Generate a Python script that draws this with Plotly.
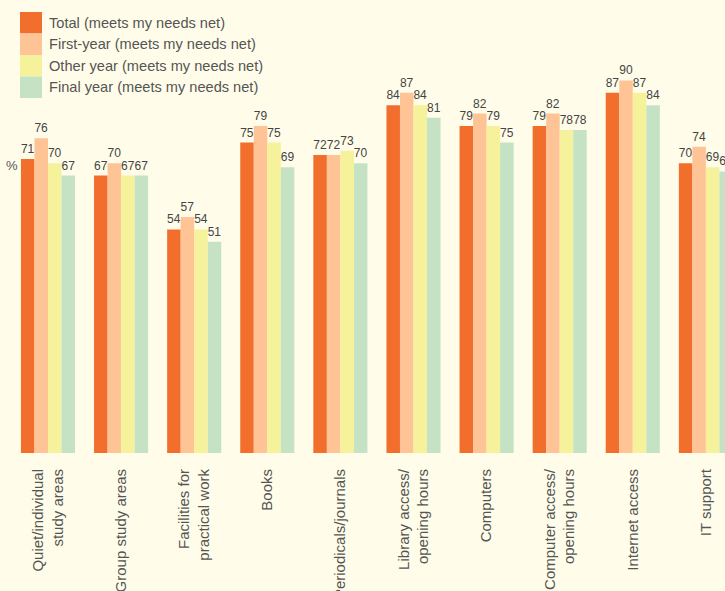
import plotly.graph_objects as go

categories = [
    "Quiet/individual<br>study areas",
    "Group study areas",
    "Facilities for<br>practical work",
    "Books",
    "Periodicals/journals",
    "Library access/<br>opening hours",
    "Computers",
    "Computer access/<br>opening hours",
    "Internet access",
    "IT support",
]
series_names = [
    "Total (meets my needs net)",
    "First-year (meets my needs net)",
    "Other year (meets my needs net)",
    "Final year (meets my needs net)",
]
total = [71, 67, 54, 75, 72, 84, 79, 79, 87, 70]
first_year = [76, 70, 57, 79, 72, 87, 82, 82, 90, 74]
other_year = [70, 67, 54, 75, 73, 84, 79, 78, 87, 69]
final_year = [67, 67, 51, 69, 70, 81, 75, 78, 84, 68]
values = [total, first_year, other_year, final_year]
colors = ["#F26E2C", "#FEC496", "#F5F29B", "#C5E3C4"]

BG = "#FFFDE9"
TXT = "#555555"
FONT = "Liberation Sans, Arial"
W, H = 725, 591
ML, MR, MT, MB = 14, 0, 39, 138
PW = W - ML - MR
PH = H - MT - MB

fig = go.Figure()
for name, vals, col in zip(series_names, values, colors):
    fig.add_trace(go.Bar(
        x=list(range(len(categories))), y=vals, name=name,
        marker=dict(color=col, line=dict(width=0)),
        text=[str(v) for v in vals], textposition="outside",
        textfont=dict(size=12, color="#444444", family=FONT),
        constraintext="none", cliponaxis=True,
        showlegend=False,
    ))

def px2paper_x(px):
    return (px - ML) / PW

def py2paper_y(py):
    return (MT + PH - py) / PH

shapes = []
annotations = []
top = 12
step = 21.5
for i, (name, col) in enumerate(zip(series_names, colors)):
    y0 = top + i * step
    shapes.append(dict(type="rect", xref="paper", yref="paper",
                       x0=px2paper_x(20), x1=px2paper_x(42),
                       y0=py2paper_y(y0 + step), y1=py2paper_y(y0),
                       fillcolor=col, line=dict(width=0), layer="above"))
    annotations.append(dict(xref="paper", yref="paper",
                            x=px2paper_x(47), y=py2paper_y(y0 + step / 2),
                            text=name, showarrow=False, xanchor="left", yanchor="middle",
                            font=dict(size=14.6, color=TXT, family=FONT)))

annotations.append(dict(xref="paper", yref="paper",
                        x=px2paper_x(12), y=py2paper_y(165),
                        text="%", showarrow=False, xanchor="center", yanchor="middle",
                        font=dict(size=13, color=TXT, family=FONT)))

slot = 73.1
center0 = 48
fig.update_layout(
    width=W, height=H,
    margin=dict(l=ML, r=MR, t=MT, b=MB, pad=0, autoexpand=False),
    paper_bgcolor=BG, plot_bgcolor=BG,
    barmode="group", bargap=0.26, bargroupgap=0,
    shapes=shapes, annotations=annotations,
    font=dict(family=FONT, color=TXT),
    xaxis=dict(
        range=[(ML - center0) / slot, (W - MR - center0) / slot],
        tickmode="array", tickvals=list(range(len(categories))), ticktext=categories,
        tickangle=-90, tickfont=dict(size=15, color=TXT),
        ticks="outside", ticklen=9, tickcolor=BG,
        showgrid=False, zeroline=False, showline=False, automargin=False,
    ),
    yaxis=dict(range=[0, 100], visible=False, showgrid=False, zeroline=False,
               automargin=False),
)

fig.write_html(
    "out.html",
    config={"displayModeBar": False},
    post_script="document.body.style.margin='0';document.body.style.background='%s';" % BG,
)
